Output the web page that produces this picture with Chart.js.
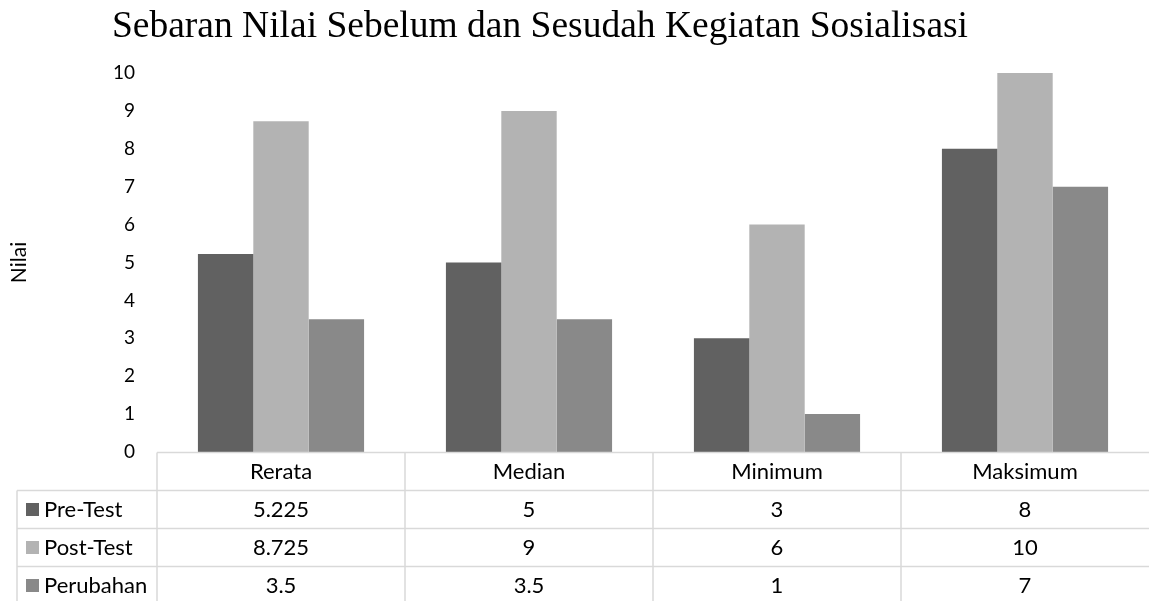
<!DOCTYPE html>
<html>
<head>
<meta charset="utf-8">
<script src="https://cdn.jsdelivr.net/npm/chart.js@4/dist/chart.umd.min.js"></script>
<style>
html,body{margin:0;padding:0;background:#fff;overflow:hidden;}
#wrap{position:relative;width:1149px;height:601px;}
</style>
</head>
<body>
<div id="wrap"><canvas id="c" width="1149" height="601"></canvas></div>
<script>
const chartTitle = "Sebaran Nilai Sebelum dan Sesudah Kegiatan Sosialisasi";
const yAxisTitle = "Nilai";
const categories = ["Rerata", "Median", "Minimum", "Maksimum"];
const seriesNames = ["Pre-Test", "Post-Test", "Perubahan"];
const preTest = [5.225, 5, 3, 8];
const postTest = [8.725, 9, 6, 10];
const perubahan = [3.5, 3.5, 1, 7];
const seriesColors = ["#616161", "#b3b3b3", "#898989"];
const yMin = 0, yMax = 10, yStep = 1;

const seriesValues = [preTest, postTest, perubahan];
const FONT = "Lato, 'Open Sans', sans-serif";

const tablePlugin = {
  id: 'dataTable',
  afterDraw(chart) {
    const ctx = chart.ctx;
    const xs = chart.scales.x;
    const area = chart.chartArea;
    const rowH = 38;
    const top = area.bottom + 0.5;
    const leftCol = 17;
    const right = chart.width;
    const n = categories.length;
    const step = (area.right - area.left) / n;
    ctx.save();
    // title
    ctx.fillStyle = '#000';
    ctx.font = "37.5px 'Liberation Serif', 'Times New Roman', serif";
    ctx.textAlign = 'center';
    ctx.textBaseline = 'alphabetic';
    ctx.fillText(chartTitle, 540, 37);
    // grid lines
    ctx.strokeStyle = '#d9d9d9';
    ctx.lineWidth = 1.5;
    ctx.beginPath();
    ctx.moveTo(area.left, top); ctx.lineTo(right, top);
    for (let r = 1; r <= seriesNames.length; r++) {
      const y = top + rowH * r;
      ctx.moveTo(leftCol, y); ctx.lineTo(right, y);
    }
    ctx.moveTo(leftCol, top + rowH); ctx.lineTo(leftCol, chart.height);
    for (let i = 0; i < n; i++) {
      const x = area.left + step * i;
      ctx.moveTo(x, top); ctx.lineTo(x, chart.height);
    }
    ctx.stroke();
    // header
    ctx.fillStyle = '#000';
    ctx.font = "22px " + FONT;
    ctx.textAlign = 'center';
    ctx.textBaseline = 'middle';
    categories.forEach((c, i) => {
      ctx.fillText(c, xs.getPixelForValue(i), top + rowH / 2);
    });
    // rows
    seriesNames.forEach((s, r) => {
      const yc = top + rowH * (r + 1) + rowH / 2;
      ctx.fillStyle = seriesColors[r];
      ctx.fillRect(26, yc - 6.5, 13, 13);
      ctx.fillStyle = '#000';
      ctx.textAlign = 'left';
      ctx.fillText(s, 44, yc);
      ctx.textAlign = 'center';
      seriesValues[r].forEach((v, i) => {
        ctx.fillText(String(v), xs.getPixelForValue(i), yc);
      });
    });
    ctx.restore();
  }
};

new Chart(document.getElementById('c'), {
  type: 'bar',
  data: {
    labels: categories,
    datasets: seriesNames.map((name, i) => ({
      label: name,
      data: seriesValues[i],
      backgroundColor: seriesColors[i],
      borderWidth: 0,
      categoryPercentage: 0.67,
      barPercentage: 1.0
    }))
  },
  options: {
    responsive: false,
    animation: false,
    events: [],
    layout: { padding: { top: 73, bottom: 149, left: 0, right: 0 } },
    plugins: {
      legend: { display: false },
      title: { display: false },
      tooltip: { enabled: false }
    },
    scales: {
      x: {
        display: false,
        offset: true
      },
      y: {
        min: yMin, max: yMax,
        grid: { display: false, drawTicks: false },
        border: { display: false },
        ticks: { stepSize: yStep, color: '#000', padding: 22, font: { family: FONT, size: 19 } },
        title: { display: true, text: yAxisTitle, color: '#000', font: { family: FONT, size: 21 }, padding: { top: 7, bottom: 0 } },
        afterFit(scale) { scale.width = 157; }
      }
    }
  },
  plugins: [tablePlugin]
});
</script>
</body>
</html>
